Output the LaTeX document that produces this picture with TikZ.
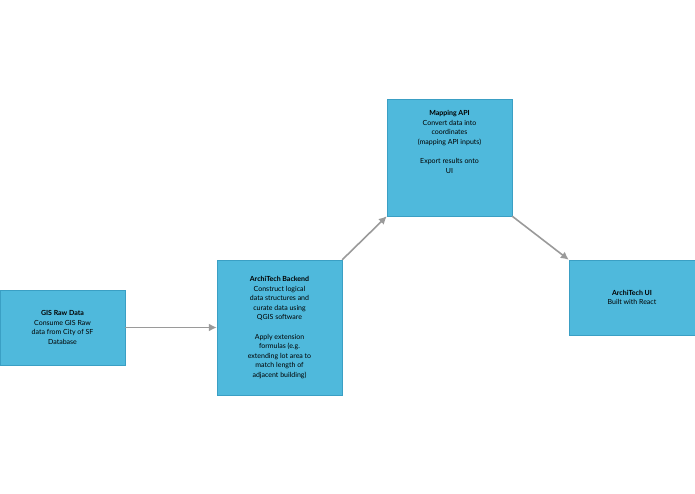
\documentclass[tikz,border=0pt]{standalone}
\usepackage{fontspec}
\setmainfont{Lato}
\usetikzlibrary{positioning}
\definecolor{boxblue}{HTML}{4FB9DC}
\definecolor{boxline}{HTML}{3A9FC4}
\definecolor{arrowgray}{HTML}{9A9A9A}
\tikzset{
  stage/.style={draw=boxline, fill=boxblue, minimum width=125pt, align=center,
    font=\fontsize{7pt}{9.6pt}\selectfont, inner sep=2pt},
  flow/.style={draw=arrowgray, line width=1.6pt, -{Latex[length=8pt,width=8pt]}}
}
\usetikzlibrary{arrows.meta}
\begin{document}
\begin{tikzpicture}[x=1pt,y=-1pt]
    \useasboundingbox (0,0) rectangle (695,494);

    \node[stage, minimum height=75pt] (gis) at (62.5,327.5)
        {\textbf{GIS Raw Data}\\Consume GIS Raw\\data from City of SF\\Database};
    \node[stage, minimum height=135pt] (backend) at (279.5,327.5)
        {\textbf{ArchiTech Backend}\\Construct logical\\data structures and\\curate data using\\QGIS software\\[9.6pt]Apply extension\\formulas (e.g.\\extending lot area to\\match length of\\adjacent building)};
    \node[stage, minimum height=117pt] (mapping) at (449.5,157.5)
        {\textbf{Mapping API}\\Convert data into\\coordinates\\(mapping API inputs)\\[9.6pt]Export results onto\\UI\\[22pt]};
    \node[stage, minimum height=75pt, minimum width=126pt] (ui) at (632,297.5)
        {\textbf{ArchiTech UI}\\Built with React};

    \draw[flow] (gis.east) -- (backend.west);
    \draw[flow] (backend.north east) -- (mapping.south west);
    \draw[flow] (mapping.south east) -- (ui.north west);
\end{tikzpicture}
\end{document}
